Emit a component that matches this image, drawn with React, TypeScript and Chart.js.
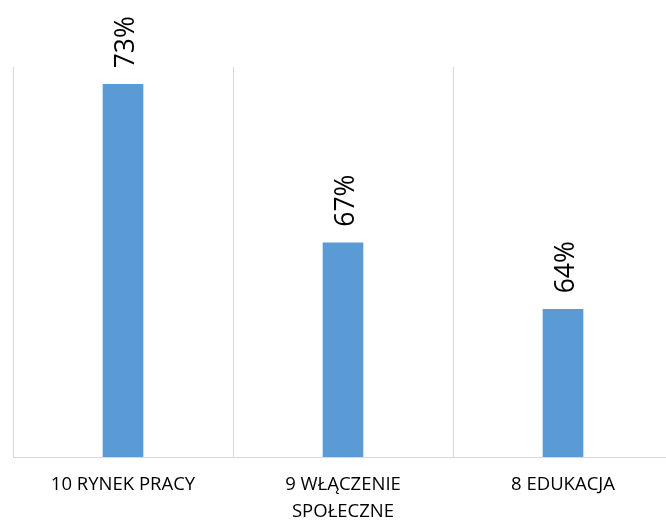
import React, { useEffect, useRef } from "react";
import { Chart, registerables } from "chart.js";

Chart.register(...registerables);

const categories: (string | string[])[] = [
  "10 RYNEK PRACY",
  ["9 WŁĄCZENIE", "SPOŁECZNE"],
  "8 EDUKACJA",
];
const values: number[] = [73.29, 66.79, 64.06];
const yMin = 58;
const yMax = 74;

const VIEW_W = 666;

const gridPlugin = {
  id: "catGrid",
  beforeDatasetsDraw(chart: any) {
    const { ctx, chartArea } = chart;
    const n = categories.length;
    const w = (chartArea.right - chartArea.left) / n;
    ctx.save();
    ctx.strokeStyle = "#d9d9d9";
    ctx.lineWidth = 1;
    for (let k = 0; k <= n; k++) {
      const x = Math.round(chartArea.left + k * w) + 0.5;
      if (x > VIEW_W) continue;
      ctx.beginPath();
      ctx.moveTo(x, chartArea.top);
      ctx.lineTo(x, chartArea.bottom);
      ctx.stroke();
    }
    ctx.restore();
  },
};

const labelPlugin = {
  id: "rotatedLabels",
  afterDatasetsDraw(chart: any) {
    const { ctx } = chart;
    const meta = chart.getDatasetMeta(0);
    ctx.save();
    ctx.font = '26.5px "Open Sans"';
    ctx.fillStyle = "#000000";
    ctx.textAlign = "left";
    ctx.textBaseline = "alphabetic";
    meta.data.forEach((bar: any, i: number) => {
      const text = Math.round(values[i]) + "%";
      ctx.save();
      ctx.translate(bar.x + 11, bar.y - 16);
      ctx.rotate(-Math.PI / 2);
      ctx.fillText(text, 0, 0);
      ctx.restore();
    });
    ctx.restore();
  },
};

export default function App() {
  const ref = useRef<HTMLCanvasElement>(null);
  useEffect(() => {
    document.body.style.margin = "0";
    document.body.style.overflow = "hidden";
    const chart = new Chart(ref.current!, {
      type: "bar",
      data: {
        labels: categories,
        datasets: [
          {
            data: values,
            backgroundColor: "#5B9BD5",
            borderWidth: 0,
            barThickness: 40,
          },
        ],
      },
      options: {
        animation: false,
        responsive: false,
        maintainAspectRatio: false,
        layout: { padding: { left: 13, top: 67, right: 17, bottom: 0 } },
        plugins: {
          legend: { display: false },
          tooltip: { enabled: false },
        },
        scales: {
          x: {
            grid: {
              display: false,
              drawTicks: false,
            },
            border: { display: true, color: "#d9d9d9", width: 1 },
            ticks: {
              color: "#000000",
              font: { family: '"Open Sans"', size: 18.5, lineHeight: "27px" },
              padding: 14,
              maxRotation: 0,
              minRotation: 0,
              autoSkip: false,
            },
            afterFit(scale: any) {
              scale.height = 64;
            },
          },
          y: {
            display: false,
            min: yMin,
            max: yMax,
            grid: { display: false },
          },
        },
      },
      plugins: [gridPlugin, labelPlugin],
    });
    return () => chart.destroy();
  }, []);
  return (
    <div style={{ position: "relative", width: VIEW_W, height: 521, overflow: "hidden" }}>
      <canvas
        ref={ref}
        width={690}
        height={521}
        style={{ display: "block", width: 690, height: 521, maxWidth: "none" }}
      />
    </div>
  );
}
